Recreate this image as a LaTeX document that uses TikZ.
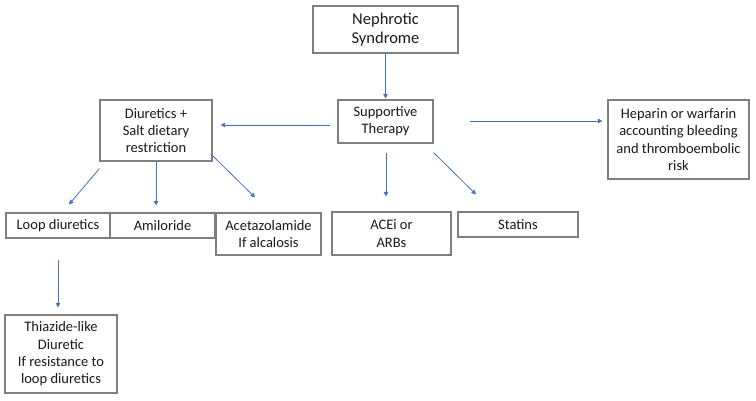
\documentclass[tikz,border=0pt]{standalone}
\usepackage{fontspec}
\setmainfont{Carlito}
\usetikzlibrary{arrows.meta,calc}
\definecolor{arrblue}{HTML}{4472C4}
\definecolor{boxgray}{HTML}{7F7F7F}
\definecolor{txt}{HTML}{1A1A1A}
\begin{document}
\begin{tikzpicture}[x=1pt,y=-1pt,
  box/.style={draw=boxgray,line width=1.1pt,inner sep=0pt,align=center,text=txt,
    font=\fontsize{14.5}{17.3}\selectfont},
  arr/.style={draw=arrblue,line width=0.8pt,-{Triangle[width=4.5pt,length=4.5pt]}}]
\useasboundingbox (0,0) rectangle (756,400);
\fill[white] (0,0) rectangle (756,400);
\node[box,minimum width=145pt,minimum height=47pt,font=\fontsize{16.5}{19}\selectfont] (neph) at (385.5,29.5) {Nephrotic\\Syndrome};
\node[box,minimum width=95pt,minimum height=43pt] (supp) at (385.5,121.5) {Supportive\\Therapy};
\node[box,minimum width=112pt,minimum height=61pt] (diur) at (156,130.5) {Diuretics +\\Salt dietary\\restriction};
\node[box,minimum width=141pt,minimum height=79pt] (hep) at (678.5,139.5) {Heparin or warfarin\\accounting bleeding\\and thromboembolic\\risk};
\node[box,minimum width=104pt,minimum height=25pt] (loop) at (58,225.5) {Loop diuretics};
\node[box,minimum width=105pt,minimum height=25pt] (amil) at (162.5,225.5) {Amiloride};
\node[box,minimum width=105pt,minimum height=42pt] (acet) at (268.5,234) {Acetazolamide\\If alcalosis};
\node[box,minimum width=119pt,minimum height=43pt] (acei) at (391.5,233.5) {ACEi or\\ARBs};
\node[box,minimum width=120pt,minimum height=25pt] (stat) at (518,224.5) {Statins};
\node[box,minimum width=112pt,minimum height=78pt] (thia) at (61,354) {Thiazide-like\\Diuretic\\If resistance to\\loop diuretics};
\draw[arr] (neph.south) -- ($(supp.north)+(0,-1)$);
\draw[arr] ($(supp.west)+(-7,3.5)$) -- ($(diur.east)+(8,-5.5)$);
\draw[arr] ($(supp.east)+(36,-0.5)$) -- ($(hep.west)+(-5,-18.5)$);
\draw[arr] ($(diur.south west)+(0,7)$) -- ($(loop.north)+(11,-8)$);
\draw[arr] (diur.south) -- ($(amil.north)+(-6.5,-7)$);
\draw[arr] ($(diur.south east)+(0,-6)$) -- ($(acet.north)+(-13.5,-15)$);
\draw[arr] ($(supp.south)+(0.5,9)$) -- ($(acei.north)+(-5.5,-15)$);
\draw[arr] ($(supp.south east)+(0,9)$) -- ($(stat.north)+(-42,-17)$);
\draw[arr] ($(loop.south)+(0,21)$) -- ($(thia.north)+(-3,-7)$);
\end{tikzpicture}
\end{document}
